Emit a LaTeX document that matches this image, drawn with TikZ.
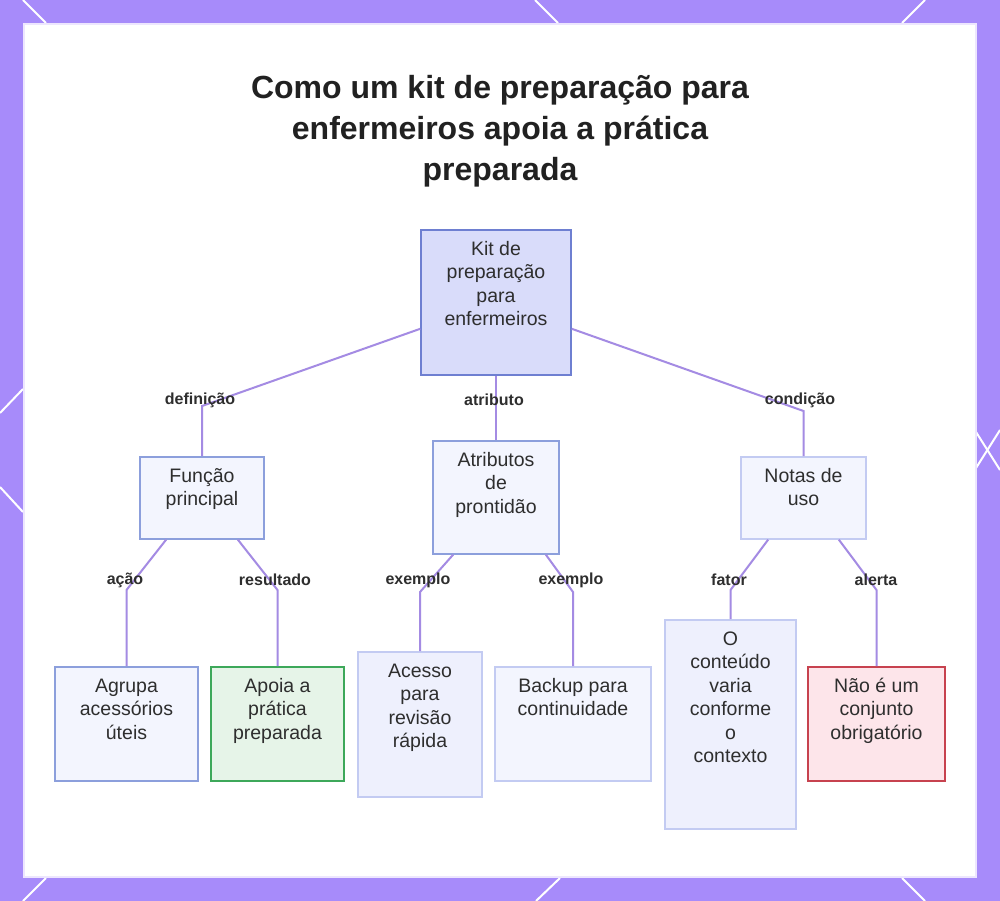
\documentclass[tikz,border=0pt]{standalone}
\usepackage{fontspec}
\setmainfont{Liberation Sans}
\usetikzlibrary{calc}
\definecolor{bgpurple}{HTML}{A78BFA}
\definecolor{panelline}{HTML}{EDE6FE}
\definecolor{edgec}{HTML}{A48BE3}
\definecolor{txt}{HTML}{2E2E2E}
\definecolor{rootfill}{HTML}{D9DCFA}
\definecolor{rootline}{HTML}{6E7FD1}
\definecolor{lightfill}{HTML}{F3F5FE}
\definecolor{midline}{HTML}{8C9FDC}
\definecolor{paleline}{HTML}{C3CBF2}
\definecolor{palefill}{HTML}{EEF0FD}
\definecolor{greenfill}{HTML}{E6F4E8}
\definecolor{greenline}{HTML}{3DA85A}
\definecolor{redfill}{HTML}{FDE5EA}
\definecolor{redline}{HTML}{C7424F}
\newcommand{\bt}[3]{\begin{minipage}[t][#2pt][t]{#1pt}\centering\fontsize{19.5}{23.5}\selectfont\color{txt}\rule{0pt}{25.5pt}#3\end{minipage}}
\tikzset{
  box/.style={draw, line width=1.6pt, inner sep=0pt, anchor=north, rectangle},
  edge/.style={draw=edgec, line width=2pt},
  lbl/.style={font=\bfseries\fontsize{16}{18}\selectfont, text=txt, inner sep=0pt},
  corner/.style={white, line width=2pt},
  titlestyle/.style={font=\bfseries\fontsize{32}{41}\selectfont, text=black!87, align=center}
}
\begin{document}
\begin{tikzpicture}[x=1pt,y=-1pt]
\useasboundingbox (0,0) rectangle (1000,901);
\fill[bgpurple] (0,0) rectangle (1000,901);
% corner decorations
\draw[corner] (23,0) -- (46,23);
\draw[corner] (535,0) -- (558,23);
\draw[corner] (925,0) -- (902,23);
\draw[corner] (46,878) -- (23,901);
\draw[corner] (560,878) -- (536,901);
\draw[corner] (902,878) -- (925,901);
\draw[corner] (0,413) -- (23,389);
\draw[corner] (0,487) -- (23,512);
\draw[corner] (976,432) -- (1000,470);
\draw[corner] (976,468) -- (1000,430);
% panel
\fill[white, draw=panelline, line width=1.5pt] (24,24) rectangle (976,877);

% title
\node[titlestyle] (title) at (500,131) {Como um kit de preparação para\\enfermeiros apoia a prática\\preparada};

% nodes
\node[box, draw=rootline, fill=rootfill] (root) at (496,229) {\bt{150}{145}{Kit de\\preparação\\para\\enfermeiros}};
\node[box, draw=midline, fill=lightfill] (fp) at (202,456) {\bt{124}{82}{Função\\principal}};
\node[box, draw=midline, fill=lightfill] (ap) at (496,440) {\bt{126}{113}{Atributos\\de\\prontidão}};
\node[box, draw=paleline, fill=lightfill] (nu) at (803.5,456) {\bt{125}{82}{Notas de\\uso}};
\node[box, draw=midline, fill=lightfill] (ag) at (126.5,666) {\bt{143}{114}{Agrupa\\acessórios\\úteis}};
\node[box, draw=greenline, fill=greenfill] (apo) at (277.5,666) {\bt{133}{114}{Apoia a\\prática\\preparada}};
\node[box, draw=paleline, fill=palefill] (ac) at (420,651) {\bt{124}{145}{Acesso\\para\\revisão\\rápida}};
\node[box, draw=paleline, fill=lightfill] (bk) at (573,666) {\bt{156}{114}{Backup para\\continuidade}};
\node[box, draw=paleline, fill=palefill] (oc) at (730.5,619) {\bt{131}{209}{O\\conteúdo\\varia\\conforme\\o\\contexto}};
\node[box, draw=redline, fill=redfill] (na) at (876.5,666) {\bt{137}{114}{Não é um\\conjunto\\obrigatório}};

% bend coordinates
\coordinate (b1) at (202,406);
\coordinate (b3) at (803.5,411);
\coordinate (b4) at (126.5,590);
\coordinate (b5) at (277.5,590);
\coordinate (b6) at (420,592);
\coordinate (b7) at (573,592);
\coordinate (b8) at (730.5,590);
\coordinate (b9) at (876.5,590);

% edges
\draw[edge] ([yshift=-26.5pt]root.west) -- (b1) -- (fp.north);
\draw[edge] (root.south) -- (ap.north);
\draw[edge] ([yshift=-26.5pt]root.east) -- (b3) -- (nu.north);
\draw[edge] ([xshift=27pt]fp.south west) -- (b4) -- (ag.north);
\draw[edge] ([xshift=-27pt]fp.south east) -- (b5) -- (apo.north);
\draw[edge] ([xshift=21pt]ap.south west) -- (b6) -- (ac.north);
\draw[edge] ([xshift=-14pt]ap.south east) -- (b7) -- (bk.north);
\draw[edge] ([xshift=28pt]nu.south west) -- (b8) -- (oc.north);
\draw[edge] ([xshift=-28pt]nu.south east) -- (b9) -- (na.north);

% labels
\node[lbl] (l1) at (200,400) {definição};
\node[lbl] (l2) at (494,400) {atributo};
\node[lbl] (l3) at (800,400) {condição};
\node[lbl] (l4) at (125,580) {ação};
\node[lbl] (l5) at (275,580) {resultado};
\node[lbl] (l6) at (418,580) {exemplo};
\node[lbl] (l7) at (571,580) {exemplo};
\node[lbl] (l8) at (729,580) {fator};
\node[lbl] (l9) at (876,580) {alerta};
\end{tikzpicture}
\end{document}
